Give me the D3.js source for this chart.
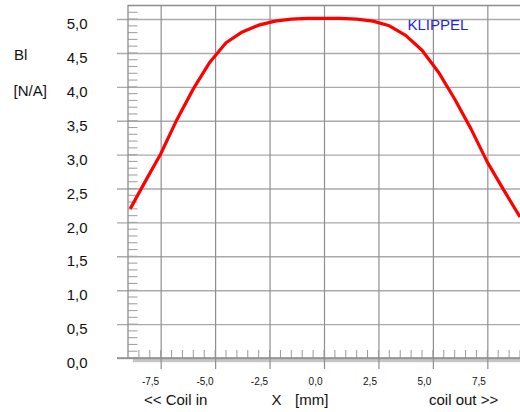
<!DOCTYPE html>
<html>
<head>
<meta charset="utf-8">
<script src="https://cdn.jsdelivr.net/npm/d3@7"></script>
<style>
  html, body { margin: 0; padding: 0; background: #fff; }
  svg { display: block; font-family: "Liberation Sans", Arial, sans-serif; }
</style>
</head>
<body>
<div id="chart"></div>
<script>
// Bl(x) curve, x in mm, Bl in N/A
const xPos = [-8.9, -8.25, -7.5, -6.75, -6.0, -5.25, -4.5, -3.75, -3.0, -2.25, -1.5, -0.75, 0,
              0.75, 1.5, 2.25, 3.0, 3.75, 4.5, 5.25, 6.0, 6.75, 7.5, 8.25, 9.0];
const blValues = [2.20, 2.58, 3.01, 3.52, 3.97, 4.36, 4.65, 4.81, 4.91, 4.97, 5.00, 5.01, 5.01,
                  5.01, 5.00, 4.97, 4.90, 4.76, 4.54, 4.22, 3.82, 3.38, 2.89, 2.48, 2.08];
const xTicks = [-7.5, -5.0, -2.5, 0.0, 2.5, 5.0, 7.5];
const yTicks = [0, 0.5, 1.0, 1.5, 2.0, 2.5, 3.0, 3.5, 4.0, 4.5, 5.0];

const W = 520, H = 412;
const pLeft = 128, pRight = 520, pTop = 5.5, pBottom = 358;

const svg = d3.select("#chart").append("svg")
    .attr("width", W)
    .attr("height", H);

const x = d3.scaleLinear().domain([-9, 9]).range([pLeft, pRight]);
const y = d3.scaleLinear().domain([0, 5.2]).range([pBottom, pTop]);

const fmt = v => d3.format(".1f")(v).replace(".", ",").replace("\u2212", "-");

// grey shadow under the x axis
svg.append("rect")
    .attr("x", 133).attr("y", pBottom + 1)
    .attr("width", pRight - 133).attr("height", 3.2)
    .attr("fill", "#c6c6c6");

// horizontal grid + y labels
const yAxis = d3.axisLeft(y)
    .tickValues(yTicks)
    .tickSize(-(pRight - 117))
    .tickPadding(29.5)
    .tickFormat(fmt);

svg.append("g")
    .attr("transform", "translate(117,0)")
    .call(yAxis)
    .call(g => g.select(".domain").remove())
    .call(g => g.selectAll(".tick line").attr("stroke", "#aaaaaa").attr("stroke-width", 1.4))
    .call(g => g.selectAll(".tick text")
        .attr("dy", "0.64em")
        .attr("fill", "#111")
        .attr("font-size", "15px")
        .attr("font-family", "Liberation Sans, Arial, sans-serif"));

// vertical grid + x labels
const xAxis = d3.axisBottom(x)
    .tickValues(xTicks)
    .tickSize(-(369 - pTop))
    .tickPadding(8.8)
    .tickFormat(fmt);

svg.append("g")
    .attr("transform", "translate(0,369)")
    .call(xAxis)
    .call(g => g.select(".domain").remove())
    .call(g => g.selectAll(".tick line").attr("stroke", "#8f8f8f").attr("stroke-width", 1.2))
    .call(g => g.selectAll(".tick text")
        .attr("text-anchor", "end")
        .attr("x", -2)
        .attr("fill", "#111")
        .attr("font-size", "10px")
        .attr("font-family", "Liberation Sans, Arial, sans-serif"));

// minor ticks on the y axis (inside the frame)
const yMinor = d3.range(0, 52).map(i => i / 10);
svg.append("g")
    .selectAll("line")
    .data(yMinor)
    .enter()
    .append("line")
    .attr("x1", pLeft).attr("x2", 137.5)
    .attr("y1", d => y(d)).attr("y2", d => y(d))
    .attr("stroke", "#a4a4a4")
    .attr("stroke-width", 1.1);

// minor ticks on the x axis
const xMinor = d3.range(-17, 19).map(i => i / 2);
svg.append("g")
    .selectAll("line")
    .data(xMinor)
    .enter()
    .append("line")
    .attr("x1", d => x(d)).attr("x2", d => x(d))
    .attr("y1", 350).attr("y2", pBottom)
    .attr("stroke", "#9a9a9a")
    .attr("stroke-width", 1);

// frame: top, left, bottom axis line
svg.append("line")
    .attr("x1", pLeft - 0.5).attr("x2", pRight)
    .attr("y1", y(5.2)).attr("y2", y(5.2))
    .attr("stroke", "#8c8c8c").attr("stroke-width", 1.3);
svg.append("line")
    .attr("x1", pLeft).attr("x2", pLeft)
    .attr("y1", y(5.2)).attr("y2", pBottom)
    .attr("stroke", "#8c8c8c").attr("stroke-width", 1.3);
svg.append("line")
    .attr("x1", 117).attr("x2", pRight)
    .attr("y1", pBottom).attr("y2", pBottom)
    .attr("stroke", "#8c8c8c").attr("stroke-width", 1.3);

// Bl curve
const line = d3.line()
    .x((d, i) => x(xPos[i]))
    .y(d => y(d));

svg.append("path")
    .datum(blValues)
    .attr("d", line)
    .attr("fill", "none")
    .attr("stroke", "#ff0000")
    .attr("stroke-width", 3.2)
    .attr("stroke-linejoin", "round");

// texts
const txt = (s, tx, ty, opts = {}) => svg.append("text")
    .attr("x", tx).attr("y", ty)
    .attr("font-size", opts.size || "15px")
    .attr("fill", opts.fill || "#111")
    .attr("text-anchor", opts.anchor || "start")
    .text(s);

txt("Bl", 14, 59.5);
txt("[N/A]", 13.5, 96);
txt("KLIPPEL", 407.5, 29.8, { fill: "#1f1fe6" });
txt("<< Coil in", 144, 405);
txt("X", 271.5, 405);
txt("[mm]", 295, 405);
txt("coil out >>", 429, 405);
</script>
</body>
</html>
